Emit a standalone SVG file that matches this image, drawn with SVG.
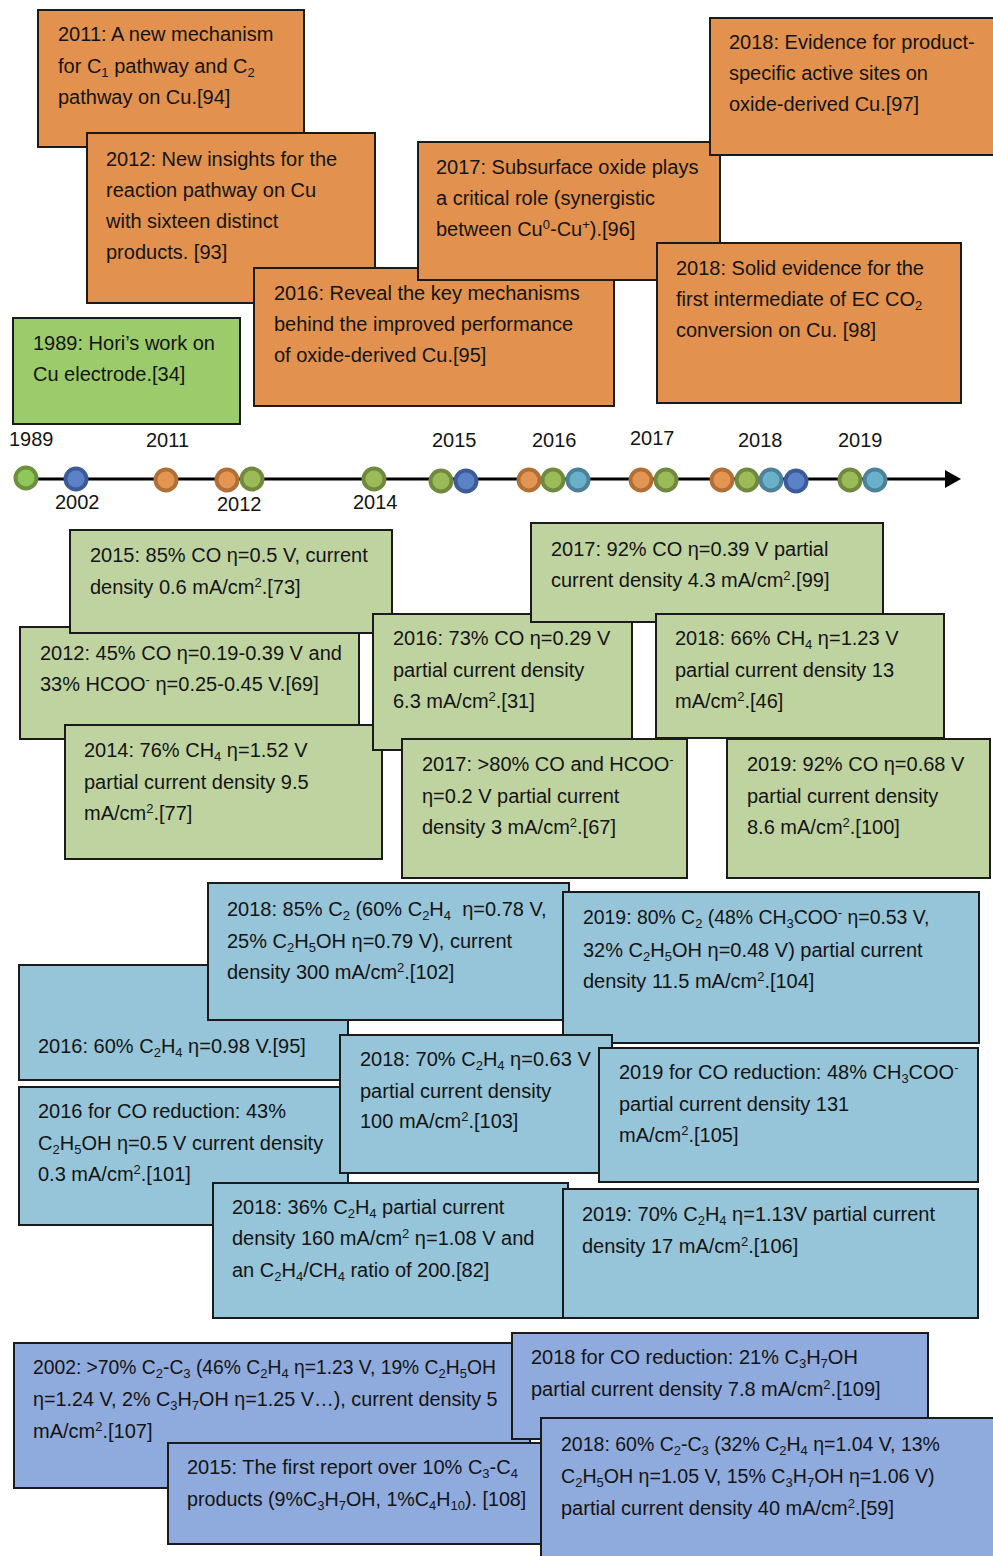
<svg xmlns="http://www.w3.org/2000/svg" width="993" height="1556" viewBox="0 0 993 1556">
<style>
.box{stroke:#1b1b1b;stroke-width:2}
.or{fill:#E2914F}
.lg{fill:#9BCB6B}
.gr{fill:#BFD3A0}
.bl{fill:#96C4D8}
.pb{fill:#8FAADC}
text{font-family:"Liberation Sans",Arial,sans-serif;font-size:20px;fill:#141414}
.s{font-size:13px;baseline-shift:-4px}
.u{font-size:13px;baseline-shift:7px}
.dot{stroke-width:4}
.dlg{fill:#8DC85A;stroke:#6E8F3C}
.dgr{fill:#9BBB59;stroke:#71893F}
.dor{fill:#E59552;stroke:#B06F36}
.dbl{fill:#5B82C6;stroke:#3D5A99}
.dtl{fill:#6BB0C9;stroke:#4C8199}
</style>
<rect width="993" height="1556" fill="#ffffff"/>

<!-- Mechanism boxes (orange) -->
<g id="n2011">
<rect class="box or" x="38" y="10" width="266" height="137"/>
<text x="58" y="41">2011: A new mechanism</text>
<text x="58" y="73">for C<tspan class="s">1</tspan> pathway and C<tspan class="s">2</tspan></text>
<text x="58" y="104">pathway on Cu.[94]</text>
</g>
<g id="n2012">
<rect class="box or" x="87" y="133" width="288" height="170"/>
<text x="106" y="166">2012: New insights for the</text>
<text x="106" y="197">reaction pathway on Cu</text>
<text x="106" y="228">with sixteen distinct</text>
<text x="106" y="259">products. [93]</text>
</g>
<g id="n1989">
<rect class="box lg" x="13" y="318" width="227" height="106"/>
<text x="33" y="350">1989: Hori’s work on</text>
<text x="33" y="381">Cu electrode.[34]</text>
</g>
<g id="n2016m">
<rect class="box or" x="254" y="268" width="360" height="138"/>
<text x="274" y="300">2016: Reveal the key mechanisms</text>
<text x="274" y="331">behind the improved performance</text>
<text x="274" y="362">of oxide-derived Cu.[95]</text>
</g>
<g id="n2017m">
<rect class="box or" x="418" y="142" width="302" height="138"/>
<text x="436" y="174">2017: Subsurface oxide plays</text>
<text x="436" y="205">a critical role (synergistic</text>
<text x="436" y="236">between Cu<tspan class="u">0</tspan>-Cu<tspan class="u">+</tspan>).[96]</text>
</g>
<g id="n2018e">
<rect class="box or" x="710" y="18" width="290" height="137"/>
<text x="729" y="49">2018: Evidence for product-</text>
<text x="729" y="80">specific active sites on</text>
<text x="729" y="111">oxide-derived Cu.[97]</text>
</g>
<g id="n2018s">
<rect class="box or" x="657" y="243" width="304" height="160"/>
<text x="676" y="275">2018: Solid evidence for the</text>
<text x="676" y="306">first intermediate of EC CO<tspan class="s">2</tspan></text>
<text x="676" y="337">conversion on Cu. [98]</text>
</g>

<!-- Timeline -->
<g id="connectors">
<line x1="27" y1="479" x2="947" y2="479" stroke="#000" stroke-width="3"/>
<polygon points="945,470 961,479 945,488" fill="#000"/>
</g>
<g id="years">
<text x="9" y="446">1989</text>
<text x="146" y="447">2011</text>
<text x="432" y="447">2015</text>
<text x="532" y="447">2016</text>
<text x="630" y="445">2017</text>
<text x="738" y="447">2018</text>
<text x="838" y="447">2019</text>
<text x="55" y="509">2002</text>
<text x="217" y="511">2012</text>
<text x="353" y="509">2014</text>
</g>
<g id="dots">
<circle class="dot dlg" cx="26" cy="478" r="10.5"/>
<circle class="dot dbl" cx="76" cy="479" r="10.5"/>
<circle class="dot dor" cx="166" cy="480" r="10.5"/>
<circle class="dot dor" cx="227" cy="480" r="10.5"/>
<circle class="dot dgr" cx="252" cy="479" r="10.5"/>
<circle class="dot dgr" cx="374" cy="479" r="10.5"/>
<circle class="dot dgr" cx="441" cy="481" r="10.5"/>
<circle class="dot dbl" cx="466" cy="481" r="10.5"/>
<circle class="dot dor" cx="529" cy="480" r="10.5"/>
<circle class="dot dgr" cx="553" cy="480" r="10.5"/>
<circle class="dot dtl" cx="578" cy="480" r="10.5"/>
<circle class="dot dor" cx="641" cy="480" r="10.5"/>
<circle class="dot dgr" cx="666" cy="480" r="10.5"/>
<circle class="dot dor" cx="722" cy="480" r="10.5"/>
<circle class="dot dgr" cx="747" cy="480" r="10.5"/>
<circle class="dot dtl" cx="771" cy="480" r="10.5"/>
<circle class="dot dbl" cx="796" cy="481" r="10.5"/>
<circle class="dot dgr" cx="850" cy="480" r="10.5"/>
<circle class="dot dtl" cx="875" cy="480" r="10.5"/>
</g>

<!-- CO / formate / CH4 boxes (light green) -->
<g id="g2012">
<rect class="box gr" x="20" y="627" width="339" height="112"/>
<text x="40" y="660">2012: 45% CO η=0.19-0.39 V and</text>
<text x="40" y="691">33% HCOO<tspan class="u">-</tspan> η=0.25-0.45 V.[69]</text>
</g>
<g id="g2015">
<rect class="box gr" x="70" y="530" width="322" height="103"/>
<text x="90" y="562">2015: 85% CO η=0.5 V, current</text>
<text x="90" y="594">density 0.6 mA/cm<tspan class="u">2</tspan>.[73]</text>
</g>
<g id="g2014">
<rect class="box gr" x="65" y="725" width="317" height="134"/>
<text x="84" y="757">2014: 76% CH<tspan class="s">4</tspan> η=1.52 V</text>
<text x="84" y="789">partial current density 9.5</text>
<text x="84" y="820">mA/cm<tspan class="u">2</tspan>.[77]</text>
</g>
<g id="g2016">
<rect class="box gr" x="373" y="614" width="259" height="136"/>
<text x="393" y="645">2016: 73% CO η=0.29 V</text>
<text x="393" y="677">partial current density</text>
<text x="393" y="708">6.3 mA/cm<tspan class="u">2</tspan>.[31]</text>
</g>
<g id="g2017a">
<rect class="box gr" x="531" y="523" width="352" height="99"/>
<text x="551" y="556">2017: 92% CO η=0.39 V partial</text>
<text x="551" y="587">current density 4.3 mA/cm<tspan class="u">2</tspan>.[99]</text>
</g>
<g id="g2017b">
<rect class="box gr" x="402" y="739" width="285" height="139"/>
<text x="422" y="771">2017: &gt;80% CO and HCOO<tspan class="u">-</tspan></text>
<text x="422" y="803">η=0.2 V partial current</text>
<text x="422" y="834">density 3 mA/cm<tspan class="u">2</tspan>.[67]</text>
</g>
<g id="g2018">
<rect class="box gr" x="656" y="614" width="288" height="124"/>
<text x="675" y="645">2018: 66% CH<tspan class="s">4</tspan> η=1.23 V</text>
<text x="675" y="677">partial current density 13</text>
<text x="675" y="708">mA/cm<tspan class="u">2</tspan>.[46]</text>
</g>
<g id="g2019">
<rect class="box gr" x="727" y="739" width="263" height="139"/>
<text x="747" y="771">2019: 92% CO η=0.68 V</text>
<text x="747" y="803">partial current density</text>
<text x="747" y="834">8.6 mA/cm<tspan class="u">2</tspan>.[100]</text>
</g>

<!-- C2 boxes (blue) -->
<g id="b2016a">
<rect class="box bl" x="19" y="965" width="329" height="115"/>
<text x="38" y="1053">2016: 60% C<tspan class="s">2</tspan>H<tspan class="s">4</tspan> η=0.98 V.[95]</text>
</g>
<g id="b2018a">
<rect class="box bl" x="208" y="883" width="361" height="137"/>
<text x="227" y="916">2018: 85% C<tspan class="s">2</tspan> (60% C<tspan class="s">2</tspan>H<tspan class="s">4</tspan>&#160; η=0.78 V,</text>
<text x="227" y="948">25% C<tspan class="s">2</tspan>H<tspan class="s">5</tspan>OH η=0.79 V), current</text>
<text x="227" y="979">density 300 mA/cm<tspan class="u">2</tspan>.[102]</text>
</g>
<g id="b2019a">
<rect class="box bl" x="563" y="892" width="416" height="151"/>
<text x="583" y="924" style="font-size:19.4px">2019: 80% C<tspan class="s">2</tspan> (48% CH<tspan class="s">3</tspan>COO<tspan class="u">-</tspan> η=0.53 V,</text>
<text x="583" y="957">32% C<tspan class="s">2</tspan>H<tspan class="s">5</tspan>OH η=0.48 V) partial current</text>
<text x="583" y="988">density 11.5 mA/cm<tspan class="u">2</tspan>.[104]</text>
</g>
<g id="b2016b">
<rect class="box bl" x="19" y="1087" width="329" height="138"/>
<text x="38" y="1118">2016 for CO reduction: 43%</text>
<text x="38" y="1150">C<tspan class="s">2</tspan>H<tspan class="s">5</tspan>OH η=0.5 V current density</text>
<text x="38" y="1181">0.3 mA/cm<tspan class="u">2</tspan>.[101]</text>
</g>
<g id="b2018b">
<rect class="box bl" x="340" y="1035" width="272" height="138"/>
<text x="360" y="1066">2018: 70% C<tspan class="s">2</tspan>H<tspan class="s">4</tspan> η=0.63 V</text>
<text x="360" y="1098">partial current density</text>
<text x="360" y="1128">100 mA/cm<tspan class="u">2</tspan>.[103]</text>
</g>
<g id="b2019b">
<rect class="box bl" x="599" y="1048" width="379" height="134"/>
<text x="619" y="1079">2019 for CO reduction: 48% CH<tspan class="s">3</tspan>COO<tspan class="u">-</tspan></text>
<text x="619" y="1111">partial current density 131</text>
<text x="619" y="1142">mA/cm<tspan class="u">2</tspan>.[105]</text>
</g>
<g id="b2018c">
<rect class="box bl" x="213" y="1183" width="355" height="135"/>
<text x="232" y="1214">2018: 36% C<tspan class="s">2</tspan>H<tspan class="s">4</tspan> partial current</text>
<text x="232" y="1245">density 160 mA/cm<tspan class="u">2</tspan> η=1.08 V and</text>
<text x="232" y="1277">an C<tspan class="s">2</tspan>H<tspan class="s">4</tspan>/CH<tspan class="s">4</tspan> ratio of 200.[82]</text>
</g>
<g id="b2019c">
<rect class="box bl" x="563" y="1189" width="415" height="129"/>
<text x="582" y="1221">2019: 70% C<tspan class="s">2</tspan>H<tspan class="s">4</tspan> η=1.13V partial current</text>
<text x="582" y="1253">density 17 mA/cm<tspan class="u">2</tspan>.[106]</text>
</g>

<!-- C2-C3 / C3+ boxes (purple-blue) -->
<g id="p2002">
<rect class="box pb" x="14" y="1343" width="516" height="145"/>
<text x="33" y="1374" style="font-size:19.3px">2002: &gt;70% C<tspan class="s">2</tspan>-C<tspan class="s">3</tspan> (46% C<tspan class="s">2</tspan>H<tspan class="s">4</tspan> η=1.23 V, 19% C<tspan class="s">2</tspan>H<tspan class="s">5</tspan>OH</text>
<text x="33" y="1406" style="font-size:19.8px">η=1.24 V, 2% C<tspan class="s">3</tspan>H<tspan class="s">7</tspan>OH η=1.25 V…), current density 5</text>
<text x="33" y="1438">mA/cm<tspan class="u">2</tspan>.[107]</text>
</g>
<g id="p2018a">
<rect class="box pb" x="512" y="1333" width="416" height="106"/>
<text x="531" y="1364">2018 for CO reduction: 21% C<tspan class="s">3</tspan>H<tspan class="s">7</tspan>OH</text>
<text x="531" y="1396">partial current density 7.8 mA/cm<tspan class="u">2</tspan>.[109]</text>
</g>
<g id="p2015">
<rect class="box pb" x="168" y="1443" width="373" height="101"/>
<text x="187" y="1474">2015: The first report over 10% C<tspan class="s">3</tspan>-C<tspan class="s">4</tspan></text>
<text x="187" y="1506" style="font-size:19.7px">products (9%C<tspan class="s">3</tspan>H<tspan class="s">7</tspan>OH, 1%C<tspan class="s">4</tspan>H<tspan class="s">10</tspan>). [108]</text>
</g>
<g id="p2018b">
<rect class="box pb" x="541" y="1418" width="460" height="145"/>
<text x="561" y="1451" style="font-size:19.5px">2018: 60% C<tspan class="s">2</tspan>-C<tspan class="s">3</tspan> (32% C<tspan class="s">2</tspan>H<tspan class="s">4</tspan> η=1.04 V, 13%</text>
<text x="561" y="1483" style="font-size:19.6px">C<tspan class="s">2</tspan>H<tspan class="s">5</tspan>OH η=1.05 V, 15% C<tspan class="s">3</tspan>H<tspan class="s">7</tspan>OH η=1.06 V)</text>
<text x="561" y="1515">partial current density 40 mA/cm<tspan class="u">2</tspan>.[59]</text>
</g>
</svg>
